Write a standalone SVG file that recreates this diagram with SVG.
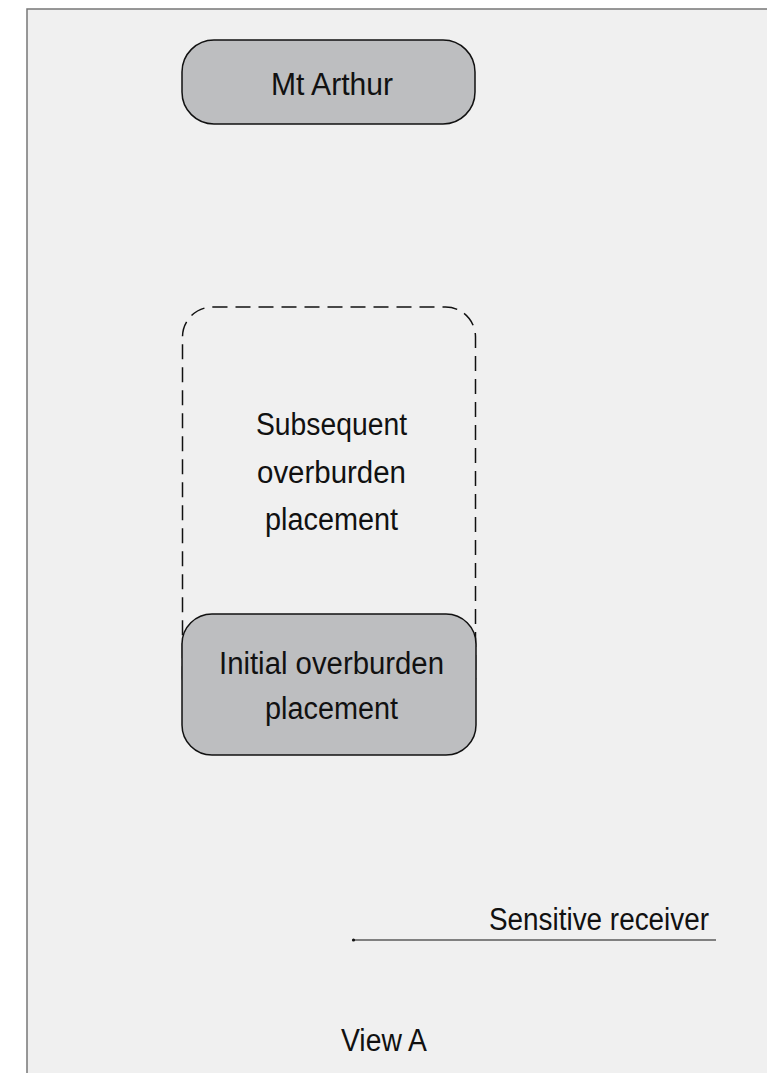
<svg xmlns="http://www.w3.org/2000/svg" width="767" height="1073" viewBox="0 0 767 1073">
<style>
.lbl{font-family:"Liberation Sans",Arial,sans-serif;font-size:31px;fill:#111;text-anchor:middle}
.solid{fill:#bdbec0;stroke:#111;stroke-width:1.5}
.dash{fill:none;stroke:#111;stroke-width:1.5;stroke-dasharray:15 8}
</style>
<rect x="0" y="0" width="767" height="1073" fill="#ffffff"/>
<rect x="27" y="9" width="760" height="1080" fill="#f0f0f0" stroke="#777" stroke-width="1.5"/>
<g id="mt-arthur">
<rect class="solid" x="182" y="40" width="293" height="84" rx="32" ry="32"/>
<text class="lbl" x="332" y="95" textLength="122" lengthAdjust="spacingAndGlyphs">Mt Arthur</text>
</g>
<g id="subsequent">
<rect class="dash" x="182.5" y="307" width="293" height="400" rx="30" ry="30"/>
<text class="lbl" x="331.5" y="435" textLength="151" lengthAdjust="spacingAndGlyphs">Subsequent</text>
<text class="lbl" x="331.5" y="482.5" textLength="149" lengthAdjust="spacingAndGlyphs">overburden</text>
<text class="lbl" x="331.5" y="530" textLength="133" lengthAdjust="spacingAndGlyphs">placement</text>
</g>
<g id="initial">
<rect class="solid" x="182" y="614" width="294" height="141" rx="30" ry="30"/>
<text class="lbl" x="331.5" y="674" textLength="225" lengthAdjust="spacingAndGlyphs">Initial overburden</text>
<text class="lbl" x="331.5" y="719" textLength="133" lengthAdjust="spacingAndGlyphs">placement</text>
</g>
<g id="connectors">
<line x1="353" y1="940" x2="716" y2="940" stroke="#111" stroke-width="1.2"/>
<circle cx="353.5" cy="940" r="1.6" fill="#111"/>
</g>
<g id="receiver">
<text class="lbl" x="599" y="930" textLength="220" lengthAdjust="spacingAndGlyphs">Sensitive receiver</text>
</g>
<g id="view-a">
<text class="lbl" x="384" y="1051" textLength="86" lengthAdjust="spacingAndGlyphs">View A</text>
</g>
</svg>
